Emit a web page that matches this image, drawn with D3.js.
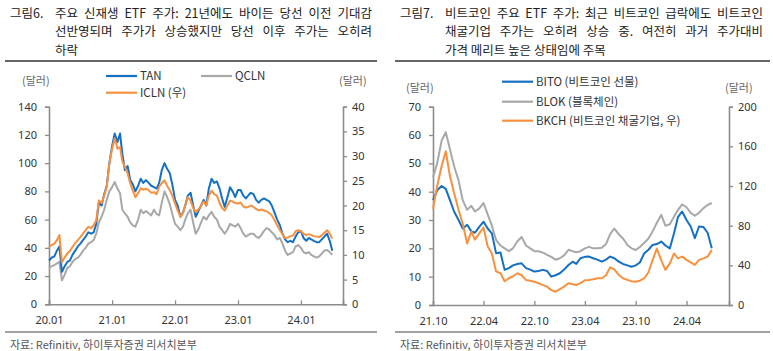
<!DOCTYPE html>
<html>
<head>
<meta charset="utf-8">
<script src="https://cdn.jsdelivr.net/npm/d3@7"></script>
<style>
  body { margin: 0; background: #fff; }
  svg { display: block; font-family: "Noto Sans CJK KR", "Noto Sans", sans-serif; }
</style>
</head>
<body>
<svg id="chart" width="773" height="351"></svg>
<script>
// ---- figure 6 data (semi-monthly, from 2020-01) ----
let tanValues = [31,33,34,38,41,23,27,30,31,35,38,41,43,45.5,48,51,50,51,57,72,70,78,84,100,
  112,121,115,121,107,95,98,88,85,80,84,89,86,88,86,84,83,82,86,95,100,96,93,85,
  74,70,62,65,70,77,79,70,62,66,70,74,70,82,89,86,87,82,75,69,76,83,80,76,
  81,81,77,75,77,79,78,74,72,74,75,74,73,70,65,60,56,50,46,44,45,44,48,51,
  52,47,45,47,46,45,44,44,46,48,50,45,38]
let qclnValues = [25.5,27,27.8,29,30,17,21,25.6,27,30,32,33,35,38,40,43,44,45.5,50,58,62,67,74,80,
  83,86.7,82,78.7,67,64.5,62,58,56,55,60,67,64.5,66,64.5,63,67,64,63,72,80,76,71,64,
  57,55,52.5,55,60,64.5,67,58,50,53,58,62,60,63,65.5,62,60,55,52.5,50,53,57,56,55,
  57,54,50,48,49,50,50,48,47,49,52,54,53,51,49,46,47,43,38,35,36,37,41,42,
  40,37,36,37,35,34,33,34,36,38,38.5,37,35]
let iclnValues = [11.6,12,12.3,13,14,8.5,9.5,10.3,10.8,11.6,12.4,13,13.6,14.3,15,15.7,15.4,16,17,21,20.5,22,23.8,28.5,
  31.5,33.6,31.5,31.8,29,27.8,26.5,24.5,23,21.7,22.5,23.5,23.2,23.4,23.1,22.6,22.7,22.3,23.8,24.5,25.1,24,23.1,22,
  20.4,19,17.7,18.5,20,21.7,21,19.5,18.7,19.2,20,20.8,20,22,23,22.3,22,20.5,19.5,19,20,21,20.8,20.5,
  20.4,20.6,19.8,19.6,19.7,20,19.7,19.3,19,19.2,19,18.8,18.5,18,17,16,15,14.2,13.4,13.5,13.8,13.9,14.8,15,
  14.8,14.3,14,14.2,14,13.8,13.7,13.6,14,14.5,15,14.3,13.3]

// ---- figure 7 data (semi-monthly, from 2021-10) ----
let bitoValues = [37,40.5,42,41,37,33,30,27,28.3,26,25.5,27.5,29.4,27,25.3,18.3,18.5,12.4,13,14,14.5,14.7,
  13,12.5,11.8,12,12.4,12,10,10.5,11.2,12.5,14.1,15.3,14.5,16.5,17,17.1,16.5,16,15.3,16,17.1,16.5,
  15.3,14.5,14,13.5,14,15,18.3,19.5,21.2,21.5,22.4,21,20,25.3,31,33,30,27.7,23.6,27.7,27.5,25.5,20]
let blokValues = [45,50,58,61,55,49,44,37,33.6,35,33,34,36,32,28,23,21,20,19,20,22.5,24,
  21,20,19,19,18.5,17.7,17,16,16.5,17.5,19.5,19,18.6,19,20,20.5,20,20,20.2,21.5,25,27,
  25,23.5,21.2,20,19.4,20.5,22,23.5,26,29,31.8,28,28.5,31.2,33.5,35.5,34.5,32.5,31.5,32.5,34.2,35.3,36]
let bkchValues = [97,120,140,155,130,113,96,82,62,74,66,72,78,59,52,34,32,24,27,29,32,30,
  25.3,24.5,23.5,22,20,18.5,15,13.4,16,18.5,21.9,21,20.2,22,25,25.3,26,27,27,30,38,36,
  30.3,27,25.3,24,23.5,24.5,27,33,45.5,57,45,35.4,42,52,47,48.8,45.5,43,40.4,45.5,47,48.8,55.6]

let leftTicksA = [0,20,40,60,80,100,120,140]
let rightTicksA = [0,5,10,15,20,25,30,35,40]
let leftTicksB = [0,10,20,30,40,50,60,70]
let rightTicksB = [0,40,80,120,160,200]

let titleA = ["주요 신재생 ETF 주가: 21년에도 바이든 당선 이전 기대감", "선반영되며 주가가 상승했지만 당선 이후 주가는 오히려", "하락"]
let titleB = ["비트코인 주요 ETF 주가: 최근 비트코인 급락에도 비트코인", "채굴기업 주가는 오히려 상승 중. 여전히 과거 주가대비", "가격 메리트 높은 상태임에 주목"]

let blue = "#1570c4", orange = "#f7913f", gray = "#a8a8a8"

let svg = d3.select("#chart")

function semiMonthly(y, m, n) {
  let out = []
  for (let i = 0; i < n; i++) out.push(new Date(y, m + Math.floor(i / 2), i % 2 ? 16 : 1))
  return out
}

function drawPanel(p) {
  let g = svg.append("g")

  // title
  g.append("text").attr("x", p.x0 + 5).attr("y", 18).attr("font-size", 12.5).attr("fill", "#222").text(p.label)
  p.title.forEach(function(line, i) {
    let t = g.append("text").attr("x", p.tx).attr("y", 18 + i * 18.3)
      .attr("font-size", 12.5).attr("fill", "#222").text(line)
    if (i < p.title.length - 1) {
      let w = t.node().getComputedTextLength()
      let spaces = line.split(" ").length - 1
      t.attr("word-spacing", (p.tEnd - p.tx - w) / spaces)
    }
  })
  g.append("line").attr("x1", p.x0).attr("x2", p.x1).attr("y1", 61).attr("y2", 61)
    .attr("stroke", "#333").attr("stroke-width", 1.5)
  g.append("line").attr("x1", p.x0).attr("x2", p.x1).attr("y1", 332).attr("y2", 332)
    .attr("stroke", "#444").attr("stroke-width", 1)
  g.append("text").attr("x", p.x0 + 5).attr("y", 349).attr("font-size", 11).attr("fill", "#555")
    .text("자료: Refinitiv, 하이투자증권 리서치본부")

  let x = d3.scaleTime().domain(p.xDomain).range([p.left, p.right])
  let yL = d3.scaleLinear().domain([0, d3.max(p.leftTicks)]).range([p.bottom, p.top])
  let yR = d3.scaleLinear().domain([0, d3.max(p.rightTicks)]).range([p.bottom, p.top])

  let axL = g.append("g").attr("transform", `translate(${p.left},0)`)
    .call(d3.axisLeft(yL).tickValues(p.leftTicks).tickSize(4).tickPadding(8))
  let axR = g.append("g").attr("transform", `translate(${p.right},0)`)
    .call(d3.axisRight(yR).tickValues(p.rightTicks).tickSize(4).tickPadding(5))
  let axX = g.append("g").attr("transform", `translate(0,${p.bottom})`)
    .call(d3.axisBottom(x).tickValues(p.xTicks).tickFormat(d3.timeFormat("%y.%m")).tickSize(-4).tickPadding(12))
  ;[axL, axR, axX].forEach(function(a) {
    a.select(".domain").attr("stroke", "#8c8c8c").attr("stroke-width", 1.6)
    a.selectAll(".tick line").attr("stroke", "#8c8c8c").attr("stroke-width", 1.3)
    a.selectAll("text").attr("font-size", 11).attr("fill", "#333")
      .attr("font-family", "'Noto Sans', sans-serif")
  })

  g.append("text").attr("x", p.left - 27).attr("y", p.unitY).attr("font-size", 11).attr("fill", "#666").text("(달러)")
  g.append("text").attr("x", p.right - 4).attr("y", p.unitY).attr("font-size", 11).attr("fill", "#666").text("(달러)")

  p.series.forEach(function(s) {
    let y = s.axis === "R" ? yR : yL
    let line = d3.line().x(function(d, i) { return x(p.dates[i]) }).y(function(d) { return y(d) })
    g.append("path").datum(s.values).attr("d", line)
      .attr("fill", "none").attr("stroke", s.color).attr("stroke-width", 2).attr("stroke-linejoin", "round")
  })

  p.legend.forEach(function(l) {
    g.append("line").attr("x1", l.x).attr("x2", l.x + 31).attr("y1", l.y).attr("y2", l.y)
      .attr("stroke", l.color).attr("stroke-width", 2.2)
    g.append("text").attr("x", l.x + 34).attr("y", l.y + 4).attr("font-size", 11.5).attr("fill", "#333").text(l.name)
  })
}

drawPanel({
  x0: 5, x1: 377, tx: 55, tEnd: 372, label: "그림6.", title: titleA,
  left: 49, right: 343, top: 106.7, bottom: 304.3, unitY: 85,
  xDomain: [new Date(2020, 0, 1), new Date(2024, 8, 1)],
  xTicks: [0, 1, 2, 3, 4].map(function(k) { return new Date(2020 + k, 0, 1) }),
  leftTicks: leftTicksA, rightTicks: rightTicksA,
  dates: semiMonthly(2020, 0, tanValues.length),
  series: [
    { values: qclnValues, color: gray, axis: "L" },
    { values: tanValues, color: blue, axis: "L" },
    { values: iclnValues, color: orange, axis: "R" }
  ],
  legend: [
    { name: "TAN", color: blue, x: 106, y: 76 },
    { name: "QCLN", color: gray, x: 201, y: 76 },
    { name: "ICLN (우)", color: orange, x: 106, y: 92.7 }
  ]
})

drawPanel({
  x0: 395, x1: 770, tx: 445, tEnd: 763, label: "그림7.", title: titleB,
  left: 433, right: 729, top: 106.7, bottom: 305, unitY: 92,
  xDomain: [new Date(2021, 9, 1), new Date(2024, 8, 1)],
  xTicks: [0, 6, 12, 18, 24, 30].map(function(k) { return new Date(2021, 9 + k, 1) }),
  leftTicks: leftTicksB, rightTicks: rightTicksB,
  dates: semiMonthly(2021, 9, bitoValues.length),
  series: [
    { values: blokValues, color: gray, axis: "L" },
    { values: bitoValues, color: blue, axis: "L" },
    { values: bkchValues, color: orange, axis: "R" }
  ],
  legend: [
    { name: "BITO (비트코인 선물)", color: blue, x: 502, y: 81.7 },
    { name: "BLOK (블록체인)", color: gray, x: 502, y: 101.7 },
    { name: "BKCH (비트코인 채굴기업, 우)", color: orange, x: 502, y: 120.7 }
  ]
})
</script>
</body>
</html>
